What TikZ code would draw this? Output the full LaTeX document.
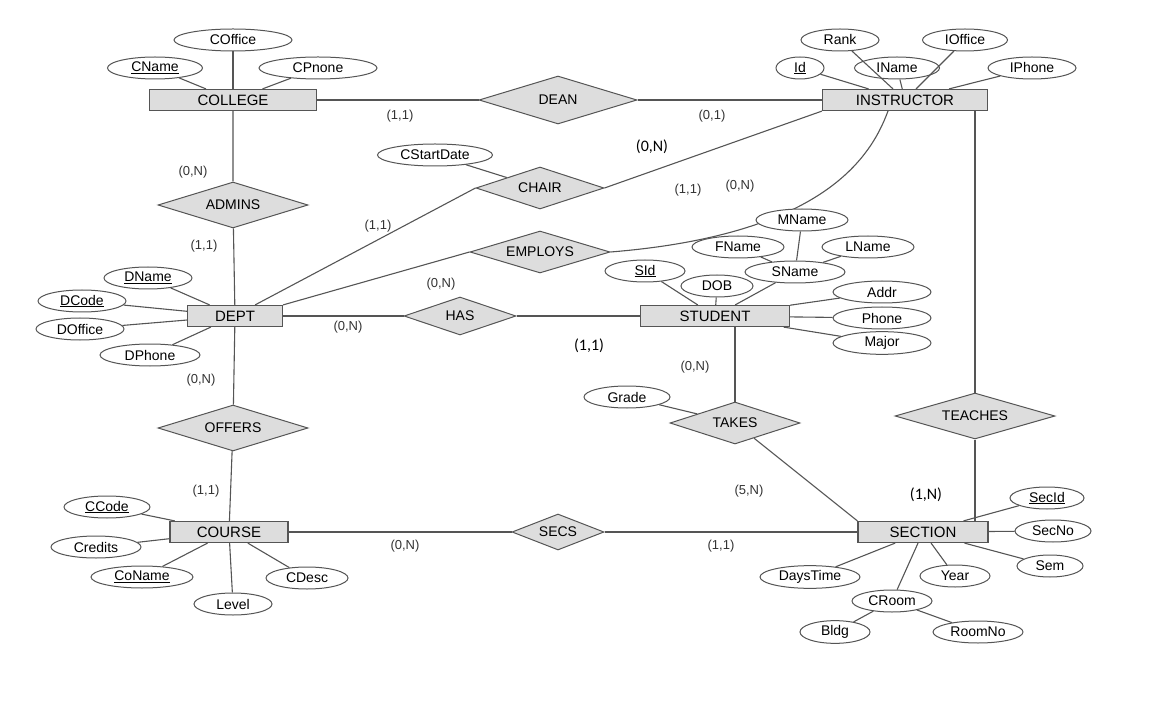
\documentclass[tikz,border=0pt]{standalone}
\usepackage{fontspec}
\setmainfont{Liberation Sans}
\newfontfamily\calib{Carlito}
\usetikzlibrary{shapes.geometric}
\definecolor{ln}{HTML}{555555}
\definecolor{fl}{HTML}{DDDDDD}
\tikzset{
 ent/.style={draw=ln,fill=fl,line width=1.2pt,minimum height=21pt,inner sep=0pt,font=\fontsize{15}{15}\selectfont},
 rel/.style={diamond,draw=ln,fill=fl,line width=1pt,aspect=3.2,inner sep=1pt,font=\fontsize{14}{14}\selectfont},
 att/.style={ellipse,draw=ln,line width=1pt,inner sep=1.5pt,minimum height=22pt,fill=white,font=\fontsize{14}{14}\selectfont},
 lab/.style={font=\fontsize{13}{13}\selectfont,text=black!80},
 clab/.style={font=\calib\fontsize{16}{16}\selectfont},
 ed/.style={draw=ln,line width=1.1pt}
}
\begin{document}
\begin{tikzpicture}[x=1pt,y=-1pt]
\useasboundingbox (0,0) rectangle (1161,708);
% entities
\node[ent,minimum width=167pt] (college) at (233,100) {COLLEGE};
\node[ent,minimum width=165pt] (instr) at (905,100) {INSTRUCTOR};
\node[ent,minimum width=95pt] (dept) at (235,316) {DEPT};
\node[ent,minimum width=149pt] (student) at (715,316) {STUDENT};
\node[ent,minimum width=118pt] (course) at (229,532) {COURSE};
\node[ent,minimum width=130pt] (section) at (923,532) {SECTION};
% relationships
\node[rel,minimum width=158pt,minimum height=48pt] (dean) at (558,100) {DEAN};
\node[rel,minimum width=128pt,minimum height=42pt] (chair) at (540,188) {CHAIR};
\node[rel,minimum width=150pt,minimum height=46pt] (admins) at (233,205) {ADMINS};
\node[rel,minimum width=140pt,minimum height=42pt] (employs) at (540,252) {EMPLOYS};
\node[rel,minimum width=112pt,minimum height=38pt] (has) at (460,316) {HAS};
\node[rel,minimum width=150pt,minimum height=46pt] (offers) at (233,428) {OFFERS};
\node[rel,minimum width=130pt,minimum height=42pt] (takes) at (735,423) {TAKES};
\node[rel,minimum width=160pt,minimum height=46pt] (teaches) at (975,416) {TEACHES};
\node[rel,minimum width=92pt,minimum height=36pt] (secs) at (558,532) {SECS};
\begin{scope}[on background layer/.style={}]
\end{scope}
% connectors
\draw[ed] (college) -- (dean) -- (instr);
\draw[ed] (college) -- (admins) -- (dept);
\draw[ed] (dept) -- (offers) -- (course);
\draw[ed] (course) -- (secs) -- (section);
\draw[ed] (instr.south -| teaches) -- (teaches) -- (section.north -| teaches);
\draw[ed] (dept) -- (has) -- (student);
\draw[ed] (student.south -| takes) -- (takes);
\draw[ed] (takes) -- (section.north west);
\draw[ed] (dept.north east) ++(-28,0) coordinate (d1) -- (chair.west);
\draw[ed] (chair.east) -- (instr.south west);
\draw[ed] (dept.north east) -- (employs.west);
\draw[ed] (employs.east) .. controls (820,235) and (870,160) .. (888,111);
% attributes
\node[att,minimum width=118pt] (coff) at (233,40) {COffice};
\node[att,minimum width=95pt] (cname) at (155,68) {\underline{CName}};
\node[att,minimum width=118pt] (cph) at (318,68) {CPnone};
\node[att,minimum width=78pt] (rank) at (840,40) {Rank};
\node[att,minimum width=85pt] (ioff) at (965,40) {IOffice};
\node[att,minimum width=48pt] (id) at (800,68) {\underline{Id}};
\node[att,minimum width=85pt] (iname) at (897,68) {IName};
\node[att,minimum width=88pt] (iph) at (1032,68) {IPhone};
\node[att,minimum width=115pt] (csd) at (435,155) {CStartDate};
\node[att,minimum width=92pt] (mname) at (802,220) {MName};
\node[att,minimum width=92pt] (fname) at (738,247) {FName};
\node[att,minimum width=92pt] (lname) at (868,247) {LName};
\node[att,minimum width=100pt] (sname) at (795,272) {SName};
\node[att,minimum width=80pt] (sid) at (645,271) {\underline{SId}};
\node[att,minimum width=72pt] (dob) at (717,286) {DOB};
\node[att,minimum width=98pt] (addr) at (882,292) {Addr};
\node[att,minimum width=98pt] (phone) at (882,318) {Phone};
\node[att,minimum width=98pt] (major) at (882,343) {Major};
\node[att,minimum width=88pt] (dname) at (148,278) {\underline{DName}};
\node[att,minimum width=88pt] (dcode) at (82,301) {\underline{DCode}};
\node[att,minimum width=88pt] (doff) at (80,329) {DOffice};
\node[att,minimum width=100pt] (dph) at (150,355) {DPhone};
\node[att,minimum width=86pt] (grade) at (627,397) {Grade};
\node[att,minimum width=86pt] (ccode) at (107,507) {\underline{CCode}};
\node[att,minimum width=90pt] (cred) at (96,547) {Credits};
\node[att,minimum width=102pt] (coname) at (142,577) {\underline{CoName}};
\node[att,minimum width=78pt] (level) at (233,604) {Level};
\node[att,minimum width=82pt] (cdesc) at (307,578) {CDesc};
\node[att,minimum width=74pt] (secid) at (1047,498) {\underline{SecId}};
\node[att,minimum width=76pt] (secno) at (1053,531) {SecNo};
\node[att,minimum width=66pt] (sem) at (1050,566) {Sem};
\node[att,minimum width=70pt] (year) at (955,576) {Year};
\node[att,minimum width=100pt] (days) at (810,577) {DaysTime};
\node[att,minimum width=80pt] (croom) at (892,601) {CRoom};
\node[att,minimum width=70pt] (bldg) at (835,632) {Bldg};
\node[att,minimum width=90pt] (roomno) at (978,632) {RoomNo};
% attribute links
\foreach \a/\b in {coff/college,cname/college,cph/college,rank/instr,ioff/instr,id/instr,iname/instr,iph/instr,
  csd/chair,mname/sname,fname/sname,lname/sname,sname/student,sid/student,dob/student,addr/student,phone/student,major/student,
  dname/dept,dcode/dept,doff/dept,dph/dept,grade/takes,ccode/course,cred/course,coname/course,level/course,cdesc/course,
  secid/section,secno/section,sem/section,year/section,days/section,croom/section,bldg/croom,roomno/croom}
  \draw[ed] (\a) -- (\b);
% redraw nodes on top
\foreach \n/\t in {college/COLLEGE,instr/INSTRUCTOR,dept/DEPT,student/STUDENT,course/COURSE,section/SECTION}{}
% labels
\node[lab] (l1) at (400,116) {(1,1)};
\node[lab] (l2) at (712,116) {(0,1)};
\node[lab] (l3) at (193,172) {(0,N)};
\node[clab] (l4) at (652,147) {(0,N)};
\node[lab] (l5) at (688,190) {(1,1)};
\node[lab] (l6) at (740,186) {(0,N)};
\node[lab] (l7) at (378,226) {(1,1)};
\node[lab] (l8) at (204,246) {(1,1)};
\node[lab] (l9) at (441,284) {(0,N)};
\node[lab] (l10) at (348,327) {(0,N)};
\node[clab] (l11) at (589,346) {(1,1)};
\node[lab] (l12) at (695,367) {(0,N)};
\node[lab] (l13) at (201,380) {(0,N)};
\node[lab] (l14) at (206,491) {(1,1)};
\node[lab] (l15) at (749,491) {(5,N)};
\node[clab] (l16) at (926,495) {(1,N)};
\node[lab] (l17) at (405,546) {(0,N)};
\node[lab] (l18) at (721,546) {(1,1)};
\end{tikzpicture}
\end{document}
